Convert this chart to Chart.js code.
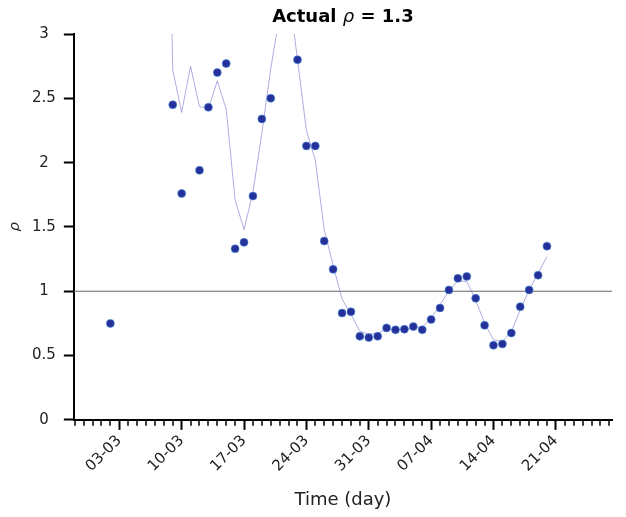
<!DOCTYPE html>
<html>
<head>
<meta charset="utf-8">
<script src="https://cdn.jsdelivr.net/npm/chart.js@4"></script>
<style>
  html, body { margin: 0; padding: 0; background: #fff; }
  #wrap { width: 626px; height: 517px; }
</style>
</head>
<body>
<div id="wrap"><canvas id="myChart"></canvas></div>
<script>
// days counted from 03-03
const tickDays = [0, 7, 14, 21, 28, 35, 42, 49];
const tickLabels = ["03-03", "10-03", "17-03", "24-03", "31-03", "07-04", "14-04", "21-04"];

// estimated rho (dots)
const dotDays = [-1, 6, 7, 9, 10, 11, 12, 13, 14, 15, 16, 17, 20, 21, 22,
  23, 24, 25, 26, 27, 28, 29, 30, 31, 32, 33, 34, 35, 36, 37, 38, 39, 40,
  41, 42, 43, 44, 45, 46, 47, 48];
const dotRho = [0.75, 2.45, 1.76, 1.94, 2.43, 2.70, 2.77, 1.33, 1.38, 1.74, 2.34, 2.50, 2.80, 2.13, 2.13,
  1.39, 1.17, 0.83, 0.84, 0.65, 0.64, 0.65, 0.715, 0.70, 0.705, 0.725, 0.70, 0.78, 0.87, 1.01, 1.10, 1.115, 0.945,
  0.735, 0.58, 0.59, 0.675, 0.88, 1.01, 1.125, 1.35];

// smoothed rho (thin line)
const lineDays = [5, 6, 7, 8, 9, 10, 11, 12, 13, 14, 15, 16, 17, 18, 19, 20, 21, 22,
  23, 24, 25, 26, 27, 28, 29, 30, 31, 32, 33, 34, 35, 36, 37, 38, 39, 40,
  41, 42, 43, 44, 45, 46, 47, 48];
const lineRho = [6.5, 2.72, 2.39, 2.75, 2.435, 2.42, 2.635, 2.415, 1.71, 1.48, 1.77, 2.23, 2.73, 3.15, 3.35, 2.80, 2.25, 2.02,
  1.48, 1.2, 0.94, 0.82, 0.69, 0.665, 0.675, 0.705, 0.70, 0.705, 0.713, 0.72, 0.79, 0.894, 1.005, 1.08, 1.075, 0.933,
  0.751, 0.622, 0.609, 0.686, 0.855, 1.01, 1.14, 1.27];

const refValue = 1;
const titleParts = [["Actual ", "bold"], ["ρ", "italic"], [" = 1.3", "bold"]];

const font = "'DejaVu Sans', sans-serif";

const extras = {
  id: "extras",
  beforeDatasetsDraw(chart) {
    const { ctx, chartArea } = chart;
    const y = chart.scales.y.getPixelForValue(refValue);
    ctx.save();
    ctx.strokeStyle = "#666";
    ctx.lineWidth = 1.2;
    ctx.beginPath();
    ctx.moveTo(chartArea.left, y);
    ctx.lineTo(chartArea.right, y);
    ctx.stroke();
    ctx.restore();
  },
  afterDraw(chart) {
    const { ctx, chartArea } = chart;
    const xs = chart.scales.x;
    ctx.save();
    // daily minor ticks
    ctx.strokeStyle = "#000";
    ctx.lineWidth = 1.5;
    for (let d = Math.ceil(xs.min); d <= Math.floor(xs.max); d++) {
      if (tickDays.includes(d)) continue;
      const px = Math.round(xs.getPixelForValue(d));
      ctx.beginPath();
      ctx.moveTo(px, xs.top);
      ctx.lineTo(px, xs.top + 6);
      ctx.stroke();
    }
    // title centred over the plot area, rho in italic
    const fonts = { bold: "bold 18px " + font, italic: "italic 18px " + font };
    let total = 0;
    const widths = titleParts.map(([t, s]) => {
      ctx.font = fonts[s];
      const w = ctx.measureText(t).width;
      total += w;
      return w;
    });
    let x = (chartArea.left + chartArea.right) / 2 - total / 2;
    ctx.fillStyle = "#000";
    ctx.textBaseline = "middle";
    ctx.textAlign = "left";
    titleParts.forEach(([t, s], i) => {
      ctx.font = fonts[s];
      ctx.fillText(t, x, 17);
      x += widths[i];
    });
    ctx.restore();
  }
};

const config = {
  type: "line",
  data: {
    datasets: [
      {
        label: "rho",
        data: dotDays.map((d, i) => ({ x: d, y: dotRho[i] })),
        showLine: false,
        pointRadius: 4,
        pointBackgroundColor: "#26309a",
        pointBorderColor: "#4b8fd6",
        pointBorderWidth: 0.6,
        order: 0
      },
      {
        label: "smooth",
        data: lineDays.map((d, i) => ({ x: d, y: lineRho[i] })),
        borderColor: "rgba(125,115,205,0.6)",
        borderWidth: 1,
        pointRadius: 0,
        tension: 0,
        order: 1
      }
    ]
  },
  options: {
    responsive: true,
    maintainAspectRatio: false,
    animation: false,
    layout: { padding: { left: 0, right: 14, top: 34, bottom: 6 } },
    plugins: {
      legend: { display: false },
      tooltip: { enabled: false },
      title: { display: false }
    },
    scales: {
      x: {
        type: "linear",
        min: -5.1,
        max: 55.3,
        afterBuildTicks: (scale) => {
          scale.ticks = tickDays.map(v => ({ value: v }));
        },
        ticks: {
          autoSkip: false,
          minRotation: 45,
          maxRotation: 45,
          padding: 2,
          color: "#222",
          font: { family: font, size: 15 },
          callback: (v) => tickLabels[tickDays.indexOf(v)]
        },
        grid: { drawOnChartArea: false, tickLength: 10, tickWidth: 2, tickColor: "#000" },
        border: { display: true, color: "#000", width: 2 },
        title: {
          display: true,
          text: "Time (day)",
          color: "#222",
          font: { family: font, size: 18 },
          padding: { top: 12, bottom: 0 }
        }
      },
      y: {
        min: 0,
        max: 3,
        ticks: {
          stepSize: 0.5,
          padding: 8,
          crossAlign: "center",
          color: "#222",
          font: { family: font, size: 15 },
          callback: (v) => String(v)
        },
        grid: { drawOnChartArea: false, tickLength: 10, tickWidth: 2, tickColor: "#000" },
        border: { display: true, color: "#000", width: 2 },
        title: {
          display: true,
          text: "𝜌",
          color: "#222",
          font: { family: font, size: 15 },
          padding: { top: 6, bottom: 0 }
        }
      }
    }
  },
  plugins: [extras]
};

const myChart = new Chart(document.getElementById("myChart"), config);
</script>
</body>
</html>
